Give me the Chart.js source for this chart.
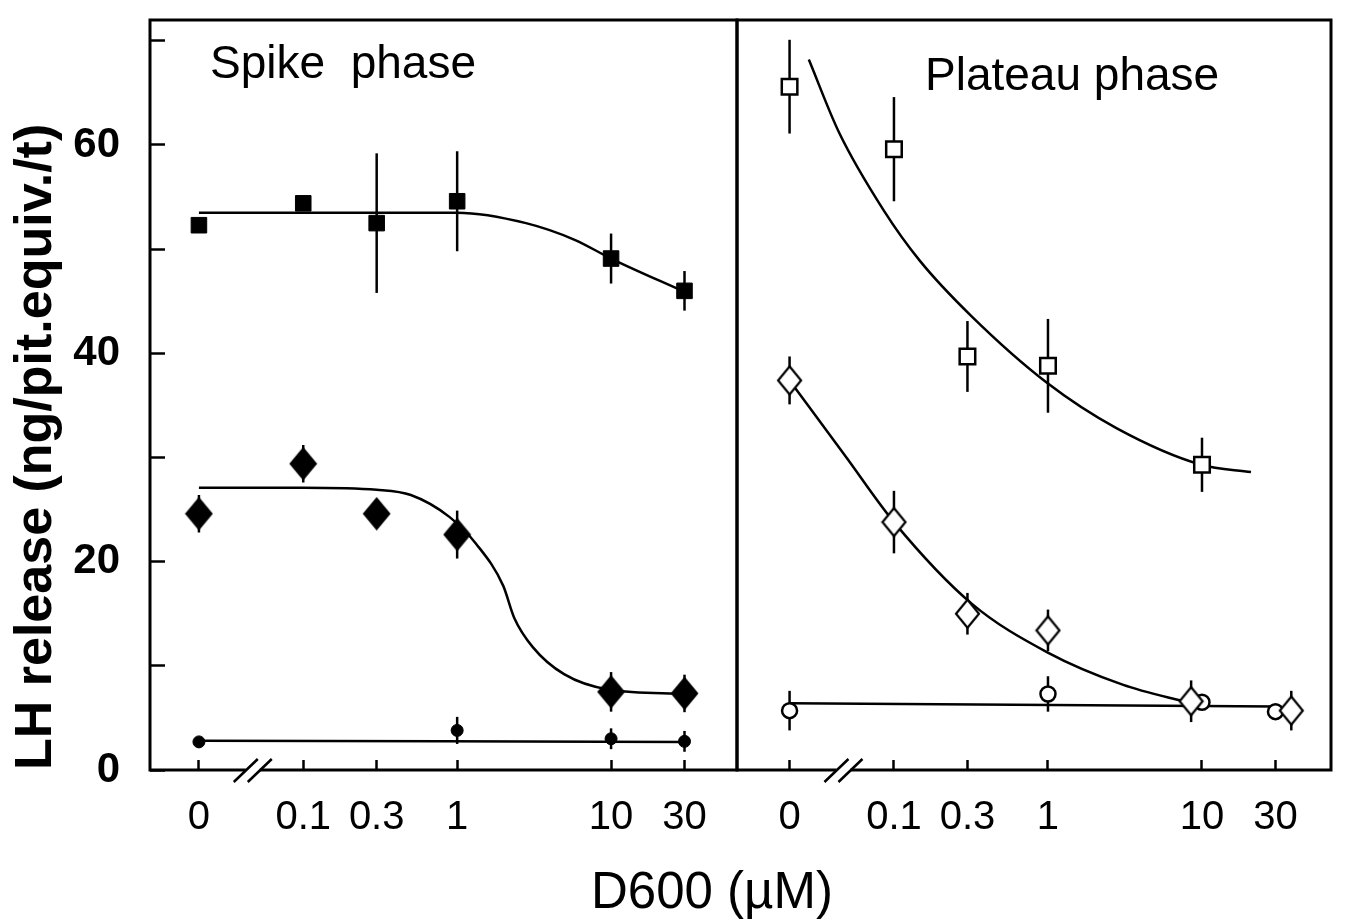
<!DOCTYPE html>
<html>
<head>
<meta charset="utf-8">
<title>LH release vs D600</title>
<script src="https://cdn.jsdelivr.net/npm/chart.js@4.4.1/dist/chart.umd.min.js"></script>
<style>
  html, body { margin: 0; padding: 0; background: #fff; overflow: hidden; }
  #wrap { position: relative; width: 1346px; height: 920px; }
  .panel { position: absolute; top: 0; height: 920px; }
  #spikeBox { left: 0; width: 760px; }
  #plateauBox { left: 720px; width: 626px; }
  #xtitle {
    position: absolute; left: 512px; width: 400px; top: 861px;
    text-align: center; line-height: 50px;
    font: 51px 'Liberation Sans', Arial, sans-serif; color: #000;
  }
</style>
</head>
<body>
<div id="wrap">
  <div class="panel" id="spikeBox"><canvas id="spike"></canvas></div>
  <div class="panel" id="plateauBox"><canvas id="plateau"></canvas></div>
  <div id="xtitle">D600 (µM)</div>
</div>
<script>
// LH-afgifte in spike- en plateaufase bij oplopende D600-concentratie.
// Log-as met onderbreking: dosis 0 staat links van de //-markering.

const DOSE_LABELS = ['0', '0.1', '0.3', '1', '10', '30'];
const DOSES = [0, 0.1, 0.3, 1, 10, 30];
const ZERO_AT = 0.021;   // plek van dosis 0 op de log-as
const BREAK_AT = 0.047;  // plek van de // markering
const Y_TICKS = [0, 10, 20, 30, 40, 50, 60, 70];
const Y_LABELS = [0, 20, 40, 60];

// ── Spike phase ──────────────────────────────────────────────────────────
const spikeSquareX = [0, 0.1, 0.3, 1, 10, 30];
const spikeSquareY = [52.3, 54.4, 52.5, 54.6, 49.1, 46.0];
const spikeSquareErr = [0, 0, 6.7, 4.8, 2.4, 1.9];
const spikeSquareFitX = [0, 0.1, 1, 2.8, 5.8, 10, 30];
const spikeSquareFitY = [53.5, 53.5, 53.5, 52.5, 50.9, 49.1, 45.9];

const spikeDiamondX = [0, 0.1, 0.3, 1, 10, 30];
const spikeDiamondY = [24.6, 29.4, 24.6, 22.6, 7.5, 7.35];
const spikeDiamondErr = [1.8, 1.8, 0, 2.3, 1.9, 1.8];
const spikeDiamondFitX = [0, 0.1, 0.3, 0.5, 0.89, 1.33, 1.99, 2.35, 3.1, 4.95, 9.8, 30];
const spikeDiamondFitY = [27.1, 27.1, 26.9, 26.4, 24.3, 21.7, 17.7, 14.6, 11.8, 9.2, 7.7, 7.3];

const spikeCircleX = [0, 1, 10, 30];
const spikeCircleY = [2.7, 3.8, 3.0, 2.75];
const spikeCircleErr = [0, 1.3, 1.0, 1.0];
const spikeCircleFitX = [0, 30];
const spikeCircleFitY = [2.8, 2.7];

// ── Plateau phase ────────────────────────────────────────────────────────
const plateauSquareX = [0, 0.1, 0.3, 1, 10];
const plateauSquareY = [65.6, 59.6, 39.7, 38.8, 29.3];
const plateauSquareErr = [4.5, 5.0, 3.4, 4.5, 2.6];
const plateauSquareFitX = [0.028, 0.044, 0.086, 0.147, 0.317, 0.98, 2.8, 9.9, 20.8];
const plateauSquareFitY = [68.2, 61.2, 53.7, 48.9, 43.6, 37.2, 32.8, 29.3, 28.6];

const plateauDiamondX = [0, 0.1, 0.3, 1, 8.5, 38];
const plateauDiamondY = [37.4, 23.8, 15.0, 13.4, 6.6, 5.7];
const plateauDiamondErr = [2.3, 3.0, 2.0, 2.0, 2.0, 1.9];
const plateauDiamondFitX = [0, 0.0486, 0.1, 0.318, 0.99, 3.05, 8.5];
const plateauDiamondFitY = [37.4, 30.1, 23.8, 16.0, 11.3, 8.2, 6.4];

const plateauCircleX = [0, 1, 10, 30];
const plateauCircleY = [5.7, 7.3, 6.5, 5.6];
const plateauCircleErr = [1.9, 1.7, 0, 0];
const plateauCircleFitX = [0, 30];
const plateauCircleFitY = [6.4, 6.1];

// ── helpers ──────────────────────────────────────────────────────────────

Chart.defaults.font.family = "'Liberation Sans', Arial, sans-serif";
Chart.defaults.color = '#000';

const pos = d => (d === 0 ? ZERO_AT : d);
const pts = (xs, ys) => xs.map((d, i) => ({ x: pos(d), y: ys[i] }));

// ruitjes iets hoger dan breed, als eigen puntstijl
function diamond(w, h, filled) {
    const c = document.createElement('canvas');
    c.width = w + 4; c.height = h + 4;
    const g = c.getContext('2d');
    g.beginPath();
    g.moveTo(c.width / 2, 2);
    g.lineTo(c.width - 2, c.height / 2);
    g.lineTo(c.width / 2, c.height - 2);
    g.lineTo(2, c.height / 2);
    g.closePath();
    g.fillStyle = filled ? '#000' : '#fff';
    g.fill();
    g.lineWidth = 2.2;
    g.strokeStyle = '#000';
    g.stroke();
    return c;
}

const STYLE = {
    filledSquare: { pointStyle: 'rect', pointRadius: 11, pointBackgroundColor: '#000', pointBorderColor: '#000', pointBorderWidth: 1 },
    openSquare: { pointStyle: 'rect', pointRadius: 11, pointBackgroundColor: '#fff', pointBorderColor: '#000', pointBorderWidth: 2.5 },
    filledDiamond: { pointStyle: diamond(25, 30, true), pointRadius: 12 },
    openDiamond: { pointStyle: diamond(23, 28, false), pointRadius: 12 },
    smallDot: { pointStyle: 'circle', pointRadius: 6, pointBackgroundColor: '#000', pointBorderColor: '#000', pointBorderWidth: 1 },
    openCircle: { pointStyle: 'circle', pointRadius: 7.5, pointBackgroundColor: '#fff', pointBorderColor: '#000', pointBorderWidth: 2.5 },
};

function markers(xs, ys, errs, style) {
    return { type: 'scatter', data: pts(xs, ys), errors: errs, order: 1, ...style };
}

function fit(xs, ys) {
    return {
        type: 'line', data: pts(xs, ys),
        borderColor: '#000', borderWidth: 2.5, pointRadius: 0,
        cubicInterpolationMode: 'monotone', fill: false, order: 2,
    };
}

// ── plugins ──────────────────────────────────────────────────────────────

const errorBars = {
    id: 'errorBars',
    beforeDatasetsDraw(chart) {
        const { ctx, scales: { x, y } } = chart;
        ctx.save();
        ctx.strokeStyle = '#000';
        ctx.lineWidth = 2.5;
        chart.data.datasets.forEach(ds => {
            if (!ds.errors) return;
            ds.data.forEach((p, i) => {
                const e = ds.errors[i];
                if (!e) return;
                const px = x.getPixelForValue(p.x);
                ctx.beginPath();
                ctx.moveTo(px, y.getPixelForValue(p.y - e));
                ctx.lineTo(px, y.getPixelForValue(p.y + e));
                ctx.stroke();
            });
        });
        ctx.restore();
    },
};

// kader rond het paneel, // op de x-as en paneelnaam
const frame = {
    id: 'frame',
    afterDraw(chart, args, opts) {
        const { ctx, chartArea: a, scales: { x } } = chart;
        ctx.save();
        ctx.strokeStyle = '#000';
        ctx.lineWidth = 3;
        ctx.strokeRect(a.left, a.top, a.right - a.left, a.bottom - a.top);

        const bx = x.getPixelForValue(BREAK_AT), by = a.bottom;
        ctx.fillStyle = '#fff';
        ctx.fillRect(bx - 7, by - 3, 14, 6);
        ctx.lineWidth = 2.5;
        ctx.beginPath();
        ctx.moveTo(bx - 19, by + 12); ctx.lineTo(bx + 5, by - 11);
        ctx.moveTo(bx - 5, by + 12); ctx.lineTo(bx + 19, by - 11);
        ctx.stroke();

        ctx.fillStyle = '#000';
        ctx.font = "46px 'Liberation Sans', Arial, sans-serif";
        ctx.textBaseline = 'alphabetic';
        ctx.fillText(opts.label, a.left + opts.dx, a.top + opts.dy);
        ctx.restore();
    },
};

// ── assen ────────────────────────────────────────────────────────────────

function xAxis(min, max) {
    return {
        type: 'logarithmic', min, max, bounds: 'data',
        afterBuildTicks: s => { s.ticks = DOSES.map(d => ({ value: pos(d) })); },
        afterFit: s => { s.height = 150; s.paddingLeft = 0; s.paddingRight = 0; },
        border: { display: false },
        grid: { drawOnChartArea: false, drawTicks: true, tickLength: -10, tickWidth: 2.5, tickColor: '#000' },
        ticks: {
            autoSkip: false, maxRotation: 0, padding: 34,
            font: { size: 40 },
            callback: (v, i) => DOSE_LABELS[i],
        },
    };
}

function yAxis(show) {
    return {
        display: show, min: 0, max: 72,
        afterBuildTicks: s => { s.ticks = Y_TICKS.map(v => ({ value: v })); },
        afterFit: s => { if (show) s.width = 150; s.paddingTop = 0; s.paddingBottom = 0; },
        border: { display: false },
        grid: { drawOnChartArea: false, drawTicks: true, tickLength: -15, tickWidth: 2.5, tickColor: '#000' },
        ticks: {
            padding: 45,
            font: { size: 42, weight: 'bold' },
            callback: v => (Y_LABELS.includes(v) ? String(v) : ''),
        },
        title: {
            display: true, text: 'LH release (ng/pit.equiv./t)', align: 'start',
            font: { size: 52, weight: 'bold' }, padding: { top: 5, bottom: 0 },
        },
    };
}

function drawPanel(id, datasets, xMin, xMax, showY, padding, label) {
    new Chart(document.getElementById(id), {
        type: 'scatter',
        data: { datasets },
        options: {
            responsive: true, maintainAspectRatio: false, animation: false, events: [],
            layout: { padding },
            plugins: { legend: { display: false }, tooltip: { enabled: false }, frame: label },
            scales: { x: xAxis(xMin, xMax), y: yAxis(showY) },
        },
        plugins: [errorBars, frame],
    });
}

drawPanel('spike', [
    markers(spikeSquareX, spikeSquareY, spikeSquareErr, STYLE.filledSquare),
    markers(spikeDiamondX, spikeDiamondY, spikeDiamondErr, STYLE.filledDiamond),
    markers(spikeCircleX, spikeCircleY, spikeCircleErr, STYLE.smallDot),
    fit(spikeSquareFitX, spikeSquareFitY),
    fit(spikeDiamondFitX, spikeDiamondFitY),
    fit(spikeCircleFitX, spikeCircleFitY),
], 0.0101, 65.8, true, { left: 0, right: 23, top: 20, bottom: 0 },
   { label: 'Spike  phase', dx: 60, dy: 58 });

drawPanel('plateau', [
    markers(plateauSquareX, plateauSquareY, plateauSquareErr, STYLE.openSquare),
    markers(plateauDiamondX, plateauDiamondY, plateauDiamondErr, STYLE.openDiamond),
    markers(plateauCircleX, plateauCircleY, plateauCircleErr, STYLE.openCircle),
    fit(plateauSquareFitX, plateauSquareFitY),
    fit(plateauDiamondFitX, plateauDiamondFitY),
    fit(plateauCircleFitX, plateauCircleFitY),
], 0.00957, 68.8, false, { left: 17, right: 15, top: 20, bottom: 0 },
   { label: 'Plateau phase', dx: 188, dy: 70 });
</script>
</body>
</html>
